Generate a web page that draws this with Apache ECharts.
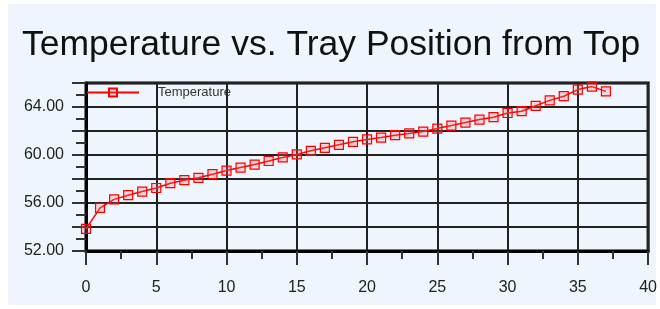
<!DOCTYPE html>
<html>
<head>
<meta charset="utf-8">
<script src="https://cdn.jsdelivr.net/npm/echarts@6/dist/echarts.min.js"></script>
<style>
  html, body { margin: 0; padding: 0; background: #fff; }
  #main { width: 660px; height: 309px; }
</style>
</head>
<body>
<div id="main"></div>
<script>
// tray position from top
var trays = [0,1,2,3,4,5,6,7,8,9,10,11,12,13,14,15,16,17,18,19,20,21,22,23,24,25,26,27,28,29,30,31,32,33,34,35,36,37];
// temperature
var temps = [53.85,55.6,56.3,56.65,56.95,57.25,57.65,57.9,58.1,58.4,58.7,58.95,59.2,59.5,59.8,60.05,60.35,60.6,60.85,61.1,61.3,61.45,61.65,61.8,61.95,62.2,62.45,62.7,62.95,63.15,63.5,63.65,64.1,64.55,64.9,65.45,65.7,65.3];
var xTicks = [0,5,10,15,20,25,30,35,40];
var yLabels = [52,56,60,64];

var points = trays.map(function (t, i) { return [t, temps[i]]; });

var myChart = echarts.init(document.getElementById('main'));
myChart.setOption({
    backgroundColor: '#fff',
    animation: false,
    graphic: [{
        type: 'rect', z: -10, silent: true,
        shape: { x: 8, y: 4, width: 648, height: 301 },
        style: { fill: '#EEF5FC' }
    }],
    title: {
        text: 'Temperature vs. Tray Position from Top',
        left: 17, top: 22,
        textStyle: { fontFamily: 'Liberation Sans', fontSize: 35.5, fontWeight: 'normal', color: '#111' }
    },
    legend: {
        left: 86, top: 86, padding: 0,
        itemWidth: 52, itemHeight: 10,
        textStyle: { fontFamily: 'Liberation Sans', fontSize: 13, color: '#333', padding: [0, 0, 0, 14] },
        data: ['Temperature']
    },
    grid: {
        left: 86, right: 8, top: 83, bottom: 58,
        show: true, borderColor: '#000', borderWidth: 3, backgroundColor: 'transparent'
    },
    xAxis: {
        type: 'value', min: 0, max: 40, interval: 5,
        axisLine: { lineStyle: { color: '#000', width: 3 } },
        axisTick: { length: 14, lineStyle: { color: '#333', width: 2 } },
        minorTick: { show: true, splitNumber: 2, length: 8, lineStyle: { color: '#333', width: 2 } },
        splitLine: { show: true, lineStyle: { color: '#222', width: 2 } },
        axisLabel: {
            margin: 29, fontFamily: 'Liberation Sans', fontSize: 16, color: '#222',
            formatter: function (v) { return xTicks.indexOf(v) >= 0 ? String(v) : ''; }
        }
    },
    yAxis: {
        type: 'value', min: 52, max: 66, interval: 2,
        axisLine: { show: true, lineStyle: { color: '#000', width: 3 } },
        axisTick: { show: true, length: 14, lineStyle: { color: '#333', width: 2 } },
        minorTick: { show: true, splitNumber: 2, length: 10, lineStyle: { color: '#333', width: 2 } },
        splitLine: { show: true, lineStyle: { color: '#222', width: 2 } },
        axisLabel: {
            margin: 22, fontFamily: 'Liberation Sans', fontSize: 16, color: '#222',
            formatter: function (v) { return yLabels.indexOf(v) >= 0 ? v.toFixed(2) : ''; }
        }
    },
    series: [{
        name: 'Temperature',
        type: 'line',
        data: points,
        symbol: 'rect',
        symbolSize: 9,
        lineStyle: { color: '#ff0000', width: 1.5 },
        itemStyle: { color: 'rgba(255,120,120,0.25)', borderColor: '#ff0000', borderWidth: 1.2 }
    }]
});
</script>
</body>
</html>
